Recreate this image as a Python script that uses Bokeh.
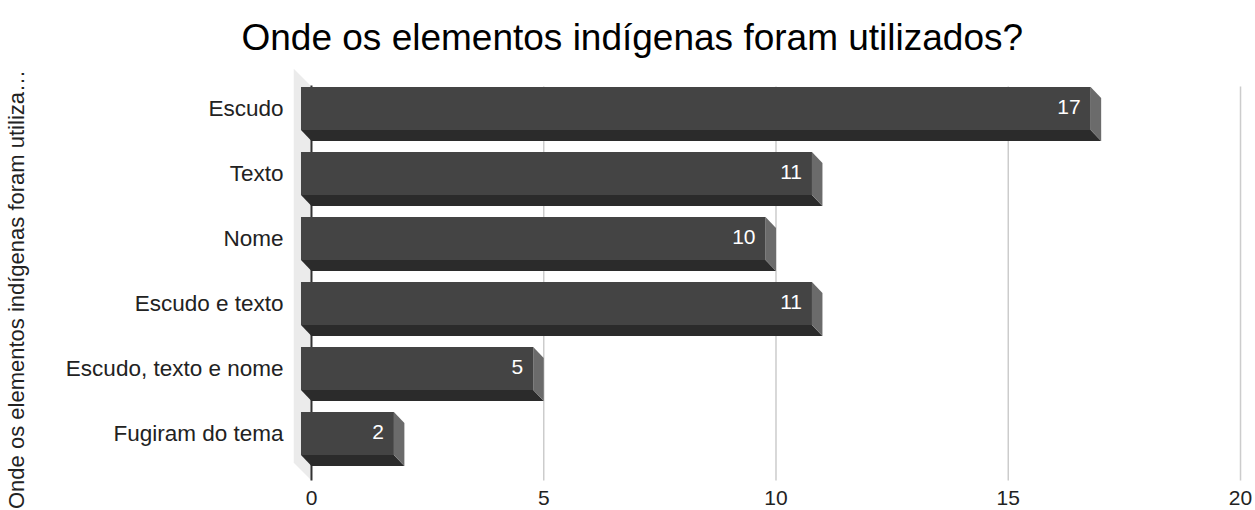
from bokeh.plotting import figure
from bokeh.models import Range1d, FixedTicker, ColumnDataSource
from bokeh.core.properties import value
from bokeh.embed import file_html
from bokeh.resources import INLINE

# ---------------- data ----------------
categories = ["Escudo", "Texto", "Nome", "Escudo e texto", "Escudo, texto e nome", "Fugiram do tema"]
counts = [17, 11, 10, 11, 5, 2]
x_ticks = [0, 5, 10, 15, 20]
title_text = "Onde os elementos indígenas foram utilizados?"
y_title_text = "Onde os elementos indígenas foram utiliza…"

# ---------------- layout constants (page px) ----------------
W, H = 1255, 510
FRAME_L, FRAME_T = 292, 68
PXX = 46.5           # px per x unit
X_ZERO = 310         # page x of value 0
PXY = 65             # px per category
FIRST_C = 108        # page y of first category (front face centre)
n = len(categories)
ypos = [n - 1 - i for i in range(n)]


def xdat(px):
    return (px - X_ZERO) / PXX


def ydat(py):
    return (n - 1) - (py - FIRST_C) / PXY


DX = 10.5 / PXX      # bar depth
DY = 11 / PXY
HH = 21.5 / PXY      # half bar height
WX = 18 / PXX        # wall depth
WY = 18 / PXY
plot_top = ydat(86)
plot_bottom = ydat(480)

FONT = "Liberation Sans"
FRONT = "#444444"
BOTTOM = "#2b2b2b"
SIDE = "#6b6b6b"

p = figure(width=W, height=H, output_backend="svg", toolbar_location=None,
           title=title_text,
           x_range=Range1d(xdat(FRAME_L), xdat(W)), y_range=Range1d(ydat(H), ydat(FRAME_T)),
           x_axis_location=None, y_axis_location="left",
           min_border_left=FRAME_L, min_border_right=0, min_border_top=FRAME_T,
           min_border_bottom=0, tools="")
p.outline_line_color = None
p.grid.grid_line_color = None
p.background_fill_color = "white"
p.border_fill_color = "white"

# title
p.title.text_font = FONT
p.title.text_font_size = "37px"
p.title.text_font_style = "normal"
p.title.text_color = "#000000"
p.title.align = "left"
p.title.offset = -52
p.title.standoff = 22

# wall
p.patch([0, 0, -WX, -WX], [plot_top, plot_bottom, plot_bottom + WY, plot_top + WY],
        fill_color="#ebebeb", line_color=None)

# gridlines
gx = [t for t in x_ticks if t != 0]
p.segment(x0=gx, y0=[plot_top] * len(gx), x1=gx, y1=[plot_bottom] * len(gx),
          line_color="#cccccc", line_width=1.5)
# baseline
p.segment(x0=[0], y0=[plot_top + 1 / PXY], x1=[0], y1=[plot_bottom],
          line_color="#333333", line_width=2)

# bars (3D: bottom face, side face, front face)
bx, by, sx, sy = [], [], [], []
for c, v in zip(ypos, counts):
    cb = c - DY
    bx.append([-DX, v - DX, v, 0])
    by.append([c - HH, c - HH, cb - HH, cb - HH])
    sx.append([v - DX, v, v, v - DX])
    sy.append([c + HH, cb + HH, cb - HH, c - HH])
p.patches(bx, by, fill_color=BOTTOM, line_color=None)
p.patches(sx, sy, fill_color=SIDE, line_color=None)
src = ColumnDataSource(dict(
    left=[-DX] * n, right=[v - DX for v in counts],
    bottom=[c - HH for c in ypos], top=[c + HH for c in ypos],
    lx=[v - DX - 10 / PXX for v in counts], ly=[c + 2 / PXY for c in ypos],
    txt=[str(v) for v in counts]))
p.quad(left="left", right="right", bottom="bottom", top="top", source=src,
       fill_color=FRONT, line_color=None)
p.text(x="lx", y="ly", text="txt", source=src, text_color="white",
       text_font=value(FONT), text_font_size="21px",
       text_align="right", text_baseline="middle")

# x tick labels
p.text(x=x_ticks, y=[ydat(497)] * len(x_ticks), text=[str(t) for t in x_ticks],
       text_color="#222222", text_font=value(FONT), text_font_size="21px",
       text_align="center", text_baseline="middle")

# y axis (categories)
ax = p.yaxis[0]
ax.ticker = FixedTicker(ticks=ypos)
ax.major_label_overrides = {yp: cat for yp, cat in zip(ypos, categories)}
ax.axis_line_color = None
ax.major_tick_line_color = None
ax.minor_tick_line_color = None
ax.major_tick_out = 0
ax.major_tick_in = 0
ax.major_label_standoff = 10
ax.major_label_text_font = FONT
ax.major_label_text_font_size = "22.5px"
ax.major_label_text_color = "#222222"
ax.axis_label = y_title_text
ax.axis_label_text_font = FONT
ax.axis_label_text_font_size = "22px"
ax.axis_label_text_font_style = "normal"
ax.axis_label_text_color = "#222222"
ax.axis_label_standoff = 34

open("out.html", "w").write(file_html(p, INLINE))
